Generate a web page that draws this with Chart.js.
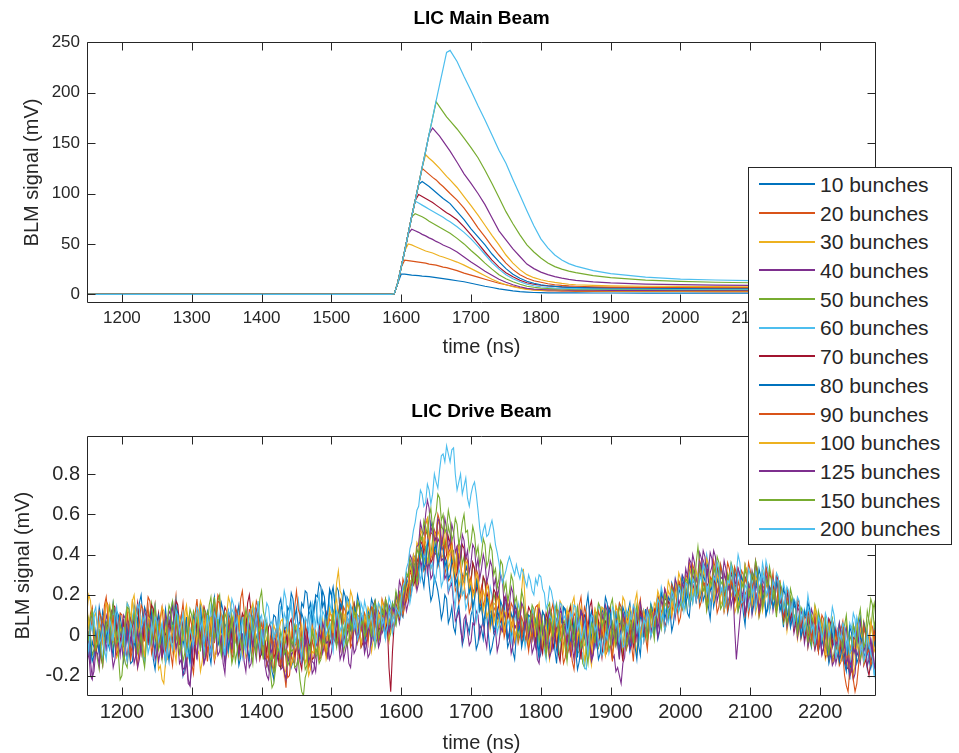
<!DOCTYPE html>
<html>
<head>
<meta charset="utf-8">
<title>LIC BLM signals</title>
<script src="https://cdn.jsdelivr.net/npm/chart.js@4.4.0/dist/chart.umd.min.js"></script>
<style>
  body { margin: 0; background: #fff; width: 959px; height: 753px; position: relative; overflow: hidden;
         font-family: "Liberation Sans", Arial, sans-serif; }
  #mainCanvas { position: absolute; left: 0; top: 0; }
  #driveCanvas { position: absolute; left: 0; top: 375px; }
  #legend { position: absolute; left: 748px; top: 167px; width: 202px; height: 376px;
            border: 1px solid #262626; background: #fff; }
  #legend .swatch { position: absolute; left: 10px; width: 56px; height: 2px; }
  #legend .name { position: absolute; left: 71px; font-size: 21px; line-height: 24px; color: #262626; white-space: nowrap; }
</style>
</head>
<body>
<canvas id="mainCanvas" width="959" height="375"></canvas>
<canvas id="driveCanvas" width="959" height="378"></canvas>
<div id="legend"></div>
<script>
// series labels and MATLAB default line colours
const seriesNames = ['10 bunches', '20 bunches', '30 bunches', '40 bunches', '50 bunches', '60 bunches', '70 bunches',
                     '80 bunches', '90 bunches', '100 bunches', '125 bunches', '150 bunches', '200 bunches'];
const seriesColors = ['#0072BD', '#D95319', '#EDB120', '#7E2F8E', '#77AC30', '#4DBEEE', '#A2142F',
                      '#0072BD', '#D95319', '#EDB120', '#7E2F8E', '#77AC30', '#4DBEEE'];

const timeTicks = [1200, 1300, 1400, 1500, 1600, 1700, 1800, 1900, 2000, 2100, 2200];
const mainTicks = [0, 50, 100, 150, 200, 250];
const driveTicks = [-0.2, 0, 0.2, 0.4, 0.6, 0.8];

// main beam, BLM signal in mV
const mainTime = [1150, 1585, 1590, 1595, 1600, 1605, 1610, 1615, 1620, 1625, 1630, 1635, 1640, 1645, 1650, 1655, 1660, 1665, 1670,
  1680, 1690, 1700, 1710, 1720, 1730, 1740, 1750, 1760, 1770, 1780, 1790, 1800, 1810, 1820, 1830, 1840, 1850,
  1875, 1900, 1950, 2000, 2050, 2100, 2150, 2200, 2280];
const main10 = [0, 0, 0.5, 11, 20, 20, 19.5, 19, 18.8, 18.5, 18, 17.8, 17.5, 17, 16.5, 16, 15.5, 15, 14.5, 13.5, 12.5, 11, 9.5, 8, 6.8, 5.5, 4.5, 3.5, 2.7, 2.2, 1.8, 1.6, 1.5, 1.5, 1.4, 1.4, 1.4, 1.3, 1.3, 1.2, 1.2, 1.2, 1.1, 1.1, 1.1, 1];
const main20 = [0, 0, 0.5, 11, 27, 34, 33.5, 33, 32.5, 32, 31.5, 31, 30, 29.5, 29, 28, 27, 26.5, 25.5, 23.5, 21, 19, 17, 15, 13, 11, 9.5, 8, 6.5, 5.5, 4.5, 4, 3.5, 3.3, 3.2, 3.1, 3, 3, 2.9, 2.8, 2.8, 2.7, 2.7, 2.6, 2.6, 2.5];
const main30 = [0, 0, 0.5, 11, 27, 43, 50, 49, 47.5, 46, 44.5, 43, 42, 41, 39.5, 38, 37, 35.8, 34.5, 32, 29, 25.5, 22, 18.5, 15, 12, 9.5, 7.5, 6, 5, 4.5, 4.2, 4, 3.9, 3.8, 3.8, 3.7, 3.6, 3.5, 3.4, 3.4, 3.3, 3.3, 3.2, 3.2, 3.1];
const main40 = [0, 0, 0.5, 11, 27, 43, 60, 64.5, 63, 61.5, 59.5, 58, 56, 54.5, 52.5, 51, 49, 47.5, 46, 42, 37, 32, 27.5, 23, 19, 15, 12, 9.5, 7.5, 6, 5.2, 4.8, 4.5, 4.4, 4.3, 4.2, 4.2, 4.1, 4, 4, 3.9, 3.9, 3.8, 3.8, 3.8, 3.7];
const main50 = [0, 0, 0.5, 11, 27, 43, 60, 77, 80, 78.5, 77, 75, 72.5, 70.5, 68.5, 66.5, 64.5, 62.5, 60.5, 55.5, 50, 43.5, 37.5, 31, 25, 19.5, 15.5, 12.5, 10, 8, 7, 6.2, 5.8, 5.5, 5.3, 5.2, 5.1, 5, 4.9, 4.8, 4.7, 4.7, 4.6, 4.6, 4.5, 4.5];
const main60 = [0, 0, 0.5, 11, 27, 43, 60, 77, 92.5, 90.5, 88.5, 86.5, 84.5, 82.5, 80.5, 78.5, 76.5, 74, 72, 67, 61.5, 55, 47.5, 39.5, 31.5, 25, 19.5, 15.5, 12.5, 10, 8.5, 7.5, 6.8, 6.3, 6, 5.8, 5.7, 5.5, 5.4, 5.3, 5.2, 5.2, 5.1, 5.1, 5, 5];
const main70 = [0, 0, 0.5, 11, 27, 43, 60, 77, 93, 99, 97, 95, 93, 91, 88.5, 86, 83.5, 81, 79, 74, 67, 59, 50.5, 42, 34, 27, 21.5, 17.5, 14, 11.5, 10, 9, 8.3, 7.8, 7.4, 7.2, 7, 6.8, 6.7, 6.6, 6.5, 6.5, 6.4, 6.4, 6.3, 6.3];
const main80 = [0, 0, 0.5, 11, 27, 43, 60, 77, 93, 109, 112, 109.5, 107, 104, 101, 98, 95, 92.5, 90, 82, 74, 65, 57, 49, 40, 32.5, 25.5, 20, 16, 13, 11, 9.5, 8.5, 7.8, 7.3, 7, 6.8, 6.5, 6.3, 6.1, 6, 5.9, 5.8, 5.8, 5.7, 5.6];
const main90 = [0, 0, 0.5, 11, 27, 43, 60, 77, 93, 109, 125, 122, 119, 116, 113.5, 110, 107, 103.5, 100, 93.5, 85.5, 76, 66, 57, 47.5, 39, 31, 24.5, 19.5, 16, 13.5, 12, 10.5, 9.5, 8.8, 8.3, 8, 7.5, 7.2, 7, 6.8, 6.7, 6.6, 6.5, 6.5, 6.4];
const main100 = [0, 0, 0.5, 11, 27, 43, 60, 77, 93, 109, 126, 138.5, 135, 132, 128.5, 125, 121, 117, 113.5, 106, 97, 88, 78.5, 68.5, 58.5, 49, 39, 31, 24.5, 19.5, 16.5, 14.5, 13, 11.8, 10.8, 10, 9.5, 8.8, 8.4, 8, 7.8, 7.6, 7.5, 7.4, 7.3, 7.2];
const main125 = [0, 0, 0.5, 11, 27, 43, 60, 77, 93, 109, 126, 142, 159, 165, 161, 157, 152, 147, 142, 131, 119.5, 110, 100, 89, 76, 63, 54, 45, 37.5, 30, 25.5, 22, 19.5, 17.5, 16, 14.8, 13.8, 12.3, 11.3, 10.2, 9.6, 9.2, 8.9, 8.7, 8.5, 8.3];
const main150 = [0, 0, 0.5, 11, 27, 43, 60, 77, 93, 109, 126, 142, 159, 175, 191, 186, 181, 176, 172, 164, 155, 145.5, 135.5, 123, 110, 96, 82, 70, 59, 49, 42, 36, 31, 27.5, 25, 23, 21.5, 18.5, 16.5, 14, 12.8, 12, 11.5, 11.2, 11, 10.8];
const main200 = [0, 0, 0.5, 11, 27, 43, 60, 77, 93, 109, 126, 142, 159, 175, 192, 208, 224, 240, 242, 231, 216, 202, 187, 173, 158, 143, 130, 114, 98.5, 83, 68, 55, 46, 39, 34, 30.5, 28, 23.5, 20.5, 17, 15, 14.2, 13.5, 13, 12.5, 12];

// drive beam, sampled every 2.5 ns from 1150 ns, values in units of 0.01 mV
const driveStart = 1150;
const driveStep = 2.5;
const drive10 = [
  -9, 2, -14, -3, -6, -9, 3, 14, 8, -3, 2, 6, -4, -7, 5, 16, 11, 1, 7, 10, -2, -13, -8, 2, -3, -8, 4, 15, 12, 6, 16, 20, 9, -2, 1, 9, -5, -1, -12, -17, -7, 4, 0, -5, 6, 13, 3, -2, 10, 17,
  5, -6, -3, 5, -10, -20, -16, -5, -8, -14, -1, 10, 7, -3, 2, 8, -4, -10, 3, 12, 9, 1, 14, 19, 6, -5, -2, 4, -6, -12, 1, 12, 8, -1, 4, 7, -5, -15, -11, -2, -4, 8, 2, -4, 9, 14, 5, -7, -1, 3,
  -10, -2, -4, -15, -12, -8, -18, -22, -9, 1, -2, -11, -7, -9, 3, 6, -5, -16, -13, -3, -6, -10, 2, 11, 8, -4, 1, 12, 10, 5, 15, 18, 7, 3, 13, 22, 19, 9, 12, 23,
  20, 10, 14, 24, 22, 12, 16, 7, 9, 19, 17, 8, 11, 14, 4, -3, 8, 10, -1, -6,
  3, 11, 9, 2, 14, 17, 6, -4, 0, 8, 5, -2, 11, 14, 7, 16, 12, 6,
  15, 20, 11, 9, 19, 28, 26, 18, 22, 30, 31, 25, 35, 38,
  29, 24, 34, 35, 25, 17, 20, 29, 26, 22, 16, 8, 12, 20,
  18, 6, 9, 14, 4, 1, 11, 15, 6, -5, -1, 8, 5, 1, 10, 13, 2, -7, -4, 5, 3, -2, 8, 10, 0, -9, -6, -1, 2, 9, 7, 2, 12, 15, 4, -6, -3, 2, -8, -12, 1, 10, 6, -4, -2, 6, 3, 10,
  9, -1, 2, 7, -5, -12, -9, 1, -2, -6, 6, 13, 11, 2, 4, -7, -1, 10, 7, 14, 13, 3, 5, -5, -3, 4, -8, -17, -13, -3, -6, 6, 1, -5, 8, 12, 3, -6, -2, 7,
  5, 13, 10, 19, 16, 7, 9, -3, 2, 8, -4, -11, 1, 11, 7, 0, 12, 16, 6, -4, 0, 5, -5, -10, 3, 12, 8, 0,
  4, 12, 11, 3, 7, -2, 2, 12, 9, 16, 15, 8, 12, 2, 6, 15, 14, 23, 21, 13, 17, 20, 11, 9, 19, 27, 26, 17, 22, 31,
  28, 17, 20, 24, 14, 8, 19, 27, 26, 35, 31, 20, 24, 13, 17, 25, 22, 30, 29, 18, 25, 12, 15, 20, 11, 5, 18, 26, 24, 16, 30, 34, 22, 19, 27, 15, 19, 10, 13, 21, 20, 27,
  24, 14, 17, 21, 12, 4, 19, 22, 14, 6, 8, 15, 13, 2, 6, 12, 10, -1, 3, 7, -2, -6, 5, 8, 0, -8, -4, 4,
  3, 4, -5, -14, -10, 1, -4, -8, 2, 6, -3, -12, -9, -4, -15, -22, -7, 5, 0, -6, 5, 9, -2, -11, -8, -4, -12, -16, -6, 4, -1];
const drive20 = [
  5, -4, 11, 14, 2, -8, -3, 6, 4, -2, 9, 17, 15, 3, 8, 12, 1, -10, -6, 3, -2, -7, 6, 12, 3, -9, -5, -1, -10, -16, -4, 7, 4, -3, 10, 19, 17, 8, 12, 16, 5, -6, -1, 4, -7, -14, -3, 9, 6, 1,
  13, 20, 9, -1, 2, 6, -4, -14, -9, 1, -14, -19, -6, 5, 3, -3, 8, 13, 1, -8, -3, 4, 5, -2, 11, 20, 18, 7, 10, 1, 4, 9, -2, -12, -8, 5, -2, -8, 7, 10, 3, -6, -4, 5, 2, -3, 9, 17, 14, 2,
  6, 0, -3, -12, -9, -4, -15, -18, -7, 3, 1, -8, -4, -3, -12, -21, -20, -10, -13, -14, -5, 4, 3, -6, -2, -1, -10, -14, -6, 5, 2, -5, -3, -12, -11, -2, -7, -1, 0, 8,
  7, -1, 2, 11, 10, 18, 16, 6, 8, 1, 3, -6, -4, 4, 1, 10, 9, 2, 5, 9,
  -1, 8, 6, 3, 12, 13, 4, 2, 9, 18, 15, 4, 8, 1, 3, 12, 10, 16,
  13, 21, 18, 10, 14, 24, 23, 19, 29, 32, 25, 35, 36, 44,
  41, 32, 34, 44, 45, 51, 50, 40, 43, 34, 37, 45, 42, 30,
  35, 27, 28, 36, 33, 22, 24, 16, 19, 28, 26, 18, 20, 11, 14, 23, 21, 28, 25, 14, 16, 5, 10, 18, 15, 4, 7, 14, 12, 20, 18, 7, 9, -1, 3, 11, 8, 16, 14, 4, 5, -4, 0, 9, 6, -3, 2, -6,
  -3, 6, 5, -2, 10, 14, 3, -6, -2, 8, 7, 1, 12, 16, 5, -5, 0, 4, -6, -14, -11, 0, -4, -9, 3, 11, 9, 2, 15, 19, 8, -1, 2, 6, -3, -9, 4, 12, 11, 2,
  6, 9, -1, -10, -8, 3, -3, -1, 5, 14, 12, 3, 7, 11, 1, -7, -4, 6, 3, 12, 10, 3, 14, 18, 7, -3, 2, 11,
  8, -1, 3, 12, 10, 6, 16, 20, 11, 2, 6, 14, 13, 9, 19, 24, 14, 6, 9, 18, 17, 27, 24, 15, 19, 29, 28, 20, 23, 14,
  17, 26, 24, 33, 32, 22, 27, 18, 20, 11, 14, 23, 21, 30, 28, 36, 33, 23, 25, 16, 19, 27, 23, 32, 30, 20, 22, 10, 16, 24, 25, 34, 31, 21, 26, 15, 18, 27, 22, 31, 28, 18,
  20, 27, 25, 16, 18, 9, 11, 19, 16, 5, 9, 17, 14, 3, 7, -2, 2, 10, 8, -2, 4, 6, -3, -7, 1, 8, 6, -4,
  -2, 4, -9, -12, -4, 6, 3, -7, -5, -15, -13, -9, -20, -25, -28, -17, -16, -3, -6, 5, 1, -8, -4, -13, -10, 2, -3, 6, 4, -5, -1];
const drive30 = [
  12, 20, 17, 6, 9, 11, 3, -7, -2, 8, 4, 1, 10, 15, 6, -3, -4, -11, -9, 3, 1, -2, 7, 16, 14, 8, 18, 9, 11, 1, 2, -9, -5, 7, 0, 10, 8, -3, 3, 0, -6, -17, -15, -22, -24, -13, -12, 1, -3, -8,
  5, 9, 1, -9, -5, 3, 3, 12, 9, -1, 4, 6, -2, -10, -8, -18, -13, -3, -5, 6, 2, -4, 9, 17, 13, 3, 6, -4, 0, 5, -6, -10, -1, 9, 7, 4, 12, 14, 5, -6, -3, -11, -9, 1, -2, -7, 4, 13, 10, 2,
  3, -6, -4, -1, -11, -15, -6, 5, 2, -8, -3, -3, -9, -20, -17, -8, -10, 2, -2, 4, 5, -5, -1, -10, -7, -4, -13, -16, -5, 4, 1, -10, -6, 5, 4, -6, -2, -12, -8, -1,
  2, 10, 12, 26, 32, 22, 20, 9, 11, 4, 5, 13, 14, 2, 7, -4, -1, 8, 4, 11,
  9, 1, 3, -8, -2, 7, 6, 16, 13, 2, 8, 10, 1, -3, 7, 15, 14, 8,
  11, 20, 17, 13, 22, 26, 18, 27, 27, 36, 33, 24, 30, 41,
  39, 48, 46, 36, 41, 33, 35, 43, 44, 52, 49, 38, 40, 47,
  44, 33, 36, 40, 30, 27, 37, 24, 28, 20, 22, 31, 29, 21, 24, 13, 17, 26, 23, 12, 14, 22, 19, 9, 12, 3, 8, 16, 15, 5, 9, 1, 4, 12, 10, 19, 16, 6, 7, -2, 2, 11, 8, 15, 13, 3, 5, -6,
  0, 9, 6, -1, 11, 12, 4, -7, -2, 3, -7, -12, -1, 8, 5, 1, 10, 17, 15, 6, 8, 13, 2, -5, -3, 6, 3, -3, 9, 14, 4, -5, -4, -2, -10, -15, -5, 6, 1, -4,
  7, 14, 13, 2, 6, 11, 0, -9, -5, 4, 2, -3, 8, 19, 17, 6, 9, -2, 3, 7, -2, -10, 4, 12, 10, 1, 6, 13,
  10, 2, 5, 13, 12, 20, 17, 8, 9, 16, 14, 22, 20, 10, 13, 21, 18, 27, 24, 13, 16, 24, 21, 29, 27, 18, 20, 28, 25, 34,
  30, 22, 23, 13, 18, 26, 25, 34, 31, 22, 24, 15, 17, 26, 21, 31, 28, 19, 22, 11, 14, 21, 19, 30, 26, 35, 32, 21, 25, 14, 20, 11, 15, 24, 23, 32, 29, 19, 21, 12, 16, 25,
  22, 12, 15, 23, 19, 10, 12, 2, 8, 16, 14, 6, 9, -2, 3, 12, 10, 1, 5, -6, -1, 8, 4, 12, 8, -4, 2, 5,
  -3, -12, -9, 2, -2, 8, 4, -6, -5, -14, -12, -2, -6, 6, 1, -9, -7, -20, -15, -4, -8, 3, -2, 7, 3, -8, -4, -14, -10, 1, -5];
const drive40 = [
  -14, -8, -20, -22, -11, 2, -3, -9, 4, 8, -1, 10, 7, 1, 12, 14, 5, -6, -2, 6, -7, -12, 0, 8, 6, -3, 2, 9, -6, -16, -12, -2, -5, -13, 2, 10, 9, -3, 4, 5, -3, -13, -8, 3, -2, -7, 5, 12, 10, 1,
  3, 9, -4, -14, -12, -20, -19, -13, -24, -25, -15, -4, -6, -11, 1, 4, -5, -14, -10, 0, -3, -9, 4, 13, 9, -1, 2, 8, -4, -14, -9, -1, -2, -8, 6, 14, 11, 2, 3, -7, -3, 4, -8, -16, -14, -3, -6, -12, 0, 2,
  -7, -2, -15, -20, -22, -14, -12, -3, -4, -11, -9, -17, -16, -6, -10, 0, -2, -10, -8, -16, -18, -9, -11, 1, -3, -5, 2, -4, -6, -13, -14, -18, -8, 0, -1, -9, -5, -3, -12, -2,
  -4, 6, 3, -5, -2, -12, -9, 2, -3, 0, 4, 8, -1, -9, -7, 1, 2, 10, 6, -5,
  -3, -11, -9, 1, -2, 7, 5, 12, 10, 1, 3, 12, 8, 15, 13, 4, 6, 15,
  10, 6, 15, 22, 20, 12, 16, 24, 25, 34, 30, 22, 26, 37,
  34, 43, 42, 31, 37, 28, 30, 41, 40, 48, 46, 37, 38, 28,
  30, 21, 24, 26, 16, 7, 9, 12, 3, -3, 8, 10, 2, -5, -3, 6, 5, 12, 10, -1, 4, 7, -1, -6, 6, 13, 11, 1, 3, -8, -4, 4, 2, 11, 8, -2, 1, -9, -5, 5, 3, 11, 9, -3, 2, 10, 6, -4,
  1, -9, -6, -1, -12, -14, -4, 5, 3, -2, 8, 13, 2, -7, -4, 3, 5, 12, 11, 1, 6, 9, -1, -10, -7, 2, -2, -6, 4, 12, 10, 1, 5, -4, -3, -12, -9, 1, -4, -6,
  2, 11, 8, -2, 3, 6, -3, -12, -10, -18, -16, -20, -24, -14, -11, 2, -2, -7, 5, 14, 9, -2, 3, 11, 8, 1, 12, 2,
  6, 15, 13, 4, 8, -1, 3, 12, 11, 19, 17, 8, 12, 22, 19, 9, 15, 25, 22, 30, 28, 19, 23, 33, 31, 40, 36, 27, 30, 41,
  38, 30, 33, 36, 26, 31, 34, 42, 39, 28, 29, 20, 22, 31, 27, 16, 19, 26, 24, 4, -12, -2, 8, 17, 20, 29, 27, 17, 21, 10, 15, 25, 23, 13, 18, 28, 25, 34, 30, 20, 22, 12,
  17, 26, 24, 14, 18, 8, 12, 21, 19, 7, 10, 1, 5, 14, 12, 2, 7, -4, 1, 10, 6, 13, 10, -1, 3, 7, -2, -10,
  -7, 3, -1, 8, 5, -6, -3, -14, -10, 1, -5, -9, 1, 4, -6, -15, -13, -22, -19, -8, -11, -14, -4, 6, 2, -9, -5, -2, -12, -16, -8];
const drive50 = [
  6, 9, 0, -10, -7, -3, -12, -17, -4, 7, 5, -4, 10, 14, 3, -7, -3, 4, -10, -22, -20, -9, -14, -16, -5, 6, 2, -5, 8, 13, 4, -6, -2, 8, 5, -4, 11, 16, 6, -3, -1, 5, -6, -12, 1, 9, 7, -2, 13, 17,
  8, -3, 2, 7, -4, -13, -9, 5, -3, -9, 4, 12, 9, -2, 3, 8, -3, -11, 2, 11, 7, -1, 12, 19, 5, 17, 20, 6, 10, -1, 2, 6, -4, -14, -10, 1, -5, -11, 1, 9, 6, -5, -2, 3, -8, -14, -1, 8, 5, 18,
  22, 12, 8, 4, -6, -18, -26, -24, -17, -6, -9, -16, -14, -2, -4, 6, 2, -8, -7, -16, -15, -12, -22, -28, -30, -21, -18, -5, -8, 2, -2, -11, -9, -1, -4, 5, 3, -9, -6, 6,
  -1, 9, 5, -3, 10, 12, 3, -8, -4, 6, 2, -2, 8, 16, 13, 3, 6, -5, 0, 10,
  5, -1, 11, 13, 4, -6, -2, 9, 6, 3, 12, 16, 7, -2, 1, 10, 8, 5,
  12, 21, 18, 14, 24, 28, 19, 23, 28, 37, 34, 26, 30, 42,
  38, 35, 44, 45, 36, 40, 48, 52, 41, 37, 46, 55, 52, 43,
  45, 54, 50, 41, 42, 33, 36, 46, 44, 35, 39, 30, 31, 22, 26, 36, 33, 24, 28, 16, 21, 29, 26, 17, 18, 8, 12, 21, 17, 25, 23, 11, 14, 4, 8, 16, 13, 2, 6, 12, 10, -2, 4, 7, -1, 8, 5, -2,
  9, 12, 3, -5, -3, 6, 4, 11, 10, 3, 14, 16, 7, -2, 1, 8, -5, -11, -1, 7, 6, 1, 12, 15, 5, -6, -2, -9, -8, -4, -14, -16, -7, 5, 0, -4, 6, 12, 2, -6,
  -3, 5, 4, 13, 9, 2, 15, 18, 8, -2, 3, 9, -2, -10, 5, 12, 11, 3, 6, -4, 0, 9, 7, 14, 12, 3, 4, -3,
  2, 10, 8, 0, 13, 16, 7, 3, 12, 20, 18, 9, 11, 19, 16, 26, 22, 12, 15, 24, 20, 14, 26, 31, 19, 16, 24, 36, 44, 35,
  31, 26, 23, 12, 17, 28, 24, 19, 30, 34, 22, 13, 15, 24, 20, 30, 27, 36, 33, 24, 25, 14, 18, 27, 23, 10, 14, 22, 19, 29, 26, 16, 21, 9, 13, 22, 18, 28, 25, 14, 20, 24,
  16, 9, 22, 24, 15, 6, 9, 17, 14, 23, 19, 8, 11, 2, 6, 13, 12, 2, 5, 10, 0, -5, 6, 15, 11, 0, 3, 7,
  -1, -7, 5, 6, -3, -12, -9, 1, -4, 5, 2, -9, -6, -14, -11, 0, -3, -8, 4, 7, -2, -12, -8, 3, 1, 12, 7, 2, 12, 16, 8];
const drive60 = [
  -2, -8, 5, 12, 10, -2, 4, 9, -3, -12, -8, 2, -1, -6, 6, 13, 2, -3, -5, 6, 1, -5, 8, 16, 14, 5, 9, 13, 3, -6, -4, 3, -9, -14, -3, 8, 4, -3, 10, 15, 5, -4, -1, 5, -6, -13, 0, 9, 7, 2,
  12, 18, 6, -3, 1, 6, -5, -9, -11, -2, -6, 6, 2, -4, 7, 12, 1, -8, -4, 4, 3, 14, 9, 0, 4, 10, -3, -10, -8, 2, -2, -8, 5, 13, 11, 2, 6, 12, 0, -11, -6, 4, 1, -5, 7, 15, 13, 4, 17, 8,
  10, 1, 4, 8, -3, -12, -9, 2, -2, -7, 5, 14, 13, 22, 18, 6, 11, 15, 6, 0, 14, 18, 9, -1, 2, 7, -4, -10, 3, 12, 10, 4, 16, 20, 8, -2, 1, 11, 7, 16,
  12, 22, 19, 8, 11, 14, 5, -3, 9, 18, 15, 4, 8, 13, 2, 10, 7, 16, 13, 3,
  6, 12, 1, -4, 8, 17, 14, 5, 9, 16, 3, -2, 10, 19, 16, 7, 11, 20,
  14, 7, 10, 18, 19, 28, 25, 16, 21, 30, 29, 38, 35, 27,
  31, 40, 38, 47, 44, 33, 36, 26, 29, 39, 34, 24, 27, 37,
  33, 22, 25, 29, 19, 14, 26, 33, 30, 20, 22, 13, 16, 26, 23, 12, 18, 7, 12, 20, 17, 6, 9, 17, 14, 24, 20, 9, 11, 1, 5, 14, 10, 18, 15, 5, 8, -3, 2, 11, 7, 16, 12, 1, 4, -6, -1, 8,
  4, 13, 10, 1, 5, -5, -2, 6, -7, -12, 1, 10, 8, 3, 13, 16, 6, -4, 0, 5, -4, -10, 3, 11, 9, -1, 4, 10, -3, -8, -9, -16, -17, -7, -6, 6, 2, -4, 7, 15,
  13, 3, 8, 12, 1, -9, -5, 6, 2, -3, 9, 16, 14, 4, 7, 12, 2, -8, -3, 6, 5, 13, 11, 2, 6, -3, 1, 11,
  7, 16, 13, 4, 9, 19, 16, 24, 20, 11, 14, 6, 10, 21, 17, 28, 23, 12, 18, 24, 12, 17, 20, 30, 26, 16, 21, 31, 28, 19,
  24, 34, 30, 40, 35, 24, 27, 17, 21, 30, 26, 35, 32, 22, 24, 13, 18, 28, 25, 33, 31, 40, 36, 25, 28, 17, 22, 13, 17, 27, 24, 33, 29, 18, 21, 31, 26, 37, 33, 22, 24, 14,
  19, 28, 25, 14, 17, 26, 22, 11, 14, 4, 9, 18, 16, 6, 11, 1, 5, 13, 10, 20, 14, 3, 6, -4, 1, 10, 7, -3,
  2, 9, -4, -9, 6, 14, 10, 1, 3, -7, -3, 4, -9, -14, -4, 6, 3, 11, 8, -2, 1, -9, -6, -2, -11, -17, -5, -9, -12, -20, -16];
const drive70 = [
  3, -4, 8, 12, 1, -9, -5, 2, -11, -15, -4, 6, 4, -3, 9, 15, 14, 3, 7, -3, 0, 8, -6, -12, -2, 8, 5, -2, 10, 16, 4, -7, -3, 6, 2, -5, 8, 15, 13, 2, 6, 11, -1, -11, -7, 2, -2, 7, 3, -4,
  9, 17, 15, 5, 10, 1, 3, -8, -4, 2, -9, -14, -3, 7, 3, -2, 7, 14, 11, -1, 4, 8, -2, -13, -8, 4, -1, -7, 6, 14, 12, 2, 7, -2, 1, 6, -4, -10, 2, 11, 9, 2, 16, 20, 11, 0, 4, 9, -2, -12,
  -8, -1, -3, -9, 4, 6, -2, -11, -9, -4, -15, -16, -7, 3, 0, -5, 6, 8, -1, -10, -6, -3, -13, -17, -5, 4, 2, -6, -4, -12, -11, -3, -6, 5, 1, -4, 7, 11, 3, -5,
  -2, 7, 5, -1, 11, 14, 6, -3, 0, 9, 7, 3, 13, 16, 8, -2, 2, -6, -4, 6,
  3, 10, 9, 1, 15, 17, 10, 2, 4, 13, 12, 3, 7, -16, -28, -8, 6, 14,
  13, 8, 19, 22, 16, 20, 24, 33, 30, 25, 27, 38, 36, 47,
  45, 41, 52, 50, 44, 36, 38, 49, 47, 57, 55, 44, 48, 37,
  40, 49, 46, 35, 37, 28, 31, 40, 38, 45, 43, 32, 34, 24, 27, 36, 33, 22, 25, 15, 20, 29, 27, 18, 22, 12, 15, 23, 21, 10, 16, 7, 10, 19, 17, 9, 12, 3, 6, 14, 13, 4, 9, 1, 3, 10, 8, 14,
  12, 4, 6, -4, 0, 6, -5, -9, 2, 11, 8, 1, 4, -6, -3, 4, -9, -13, -2, 6, 5, -1, 11, 14, 7, -2, 1, 8, -4, -12, 3, 10, 9, 2, 14, 17, 8, -1, 2, 7,
  -4, -11, -1, 7, 6, 14, 12, 3, 5, -5, -2, 6, -6, -13, 0, 9, 7, 1, 3, -6, -3, 8, 4, 12, 10, 1, 6, 13,
  10, 2, 4, 13, 11, 19, 17, 8, 12, 4, 7, 17, 15, 24, 21, 12, 16, 26, 24, 14, 19, 28, 27, 36, 33, 22, 26, 17, 21, 31,
  28, 37, 34, 24, 26, 15, 20, 29, 25, 35, 31, 20, 23, 12, 17, 26, 22, 32, 29, 18, 24, 33, 30, 19, 20, 10, 14, 23, 21, 30, 27, 37, 32, 22, 25, 14, 19, 27, 23, 13, 16, 25,
  22, 30, 27, 16, 18, 8, 13, 21, 19, 8, 12, 3, 7, 16, 14, 4, 9, -1, 3, 12, 9, -1, 4, 9, -2, -8, 3, 5,
  -5, -10, 1, 8, 6, -4, -1, 3, -7, -13, -3, 4, -10, -17, -16, -5, -8, -1, -2, 7, 4, -6, -3, -15, -12, -16, -20, -13, -9, 2, -1];
const drive80 = [
  1, 6, -5, -13, -10, 1, -3, -9, 4, 12, 8, -2, 2, 6, -4, -11, 3, 12, 10, 1, 6, -5, -1, 5, -7, -14, -13, -3, -6, 7, 1, -3, 6, 14, 11, 2, 5, 11, -2, -8, 2, 10, 7, -3, 1, 8, -6, -13, -3, 6,
  4, 14, 11, 2, 7, -5, 0, 9, -6, -12, -2, 8, 5, -3, 9, 16, 3, -4, -3, 5, -9, -14, -4, 6, 2, -5, 8, 16, 12, 4, 6, -7, -1, 9, 4, -2, 10, 15, 5, -6, -2, 4, -7, -12, -1, 9, 6, -3, 3, 8,
  -4, -10, 2, 5, -6, -8, 3, 10, 9, 1, 15, 18, 10, 3, 4, 14, 12, 21, 18, 9, 13, 4, 7, 16, 14, 22, 21, 12, 16, 8, 11, 20, 19, 26, 24, 14, 17, 7, 12, 22,
  20, 24, 15, 5, 8, 16, 13, 22, 19, 10, 12, 3, 6, 14, 11, 20, 16, 6, 9, -1,
  3, 12, 10, 18, 15, 4, 8, -2, 2, 11, 9, 17, 14, 3, 7, 15, 12, 20,
  16, 12, 22, 25, 18, 26, 27, 36, 32, 40, 38, 30, 34, 45,
  42, 33, 36, 45, 48, 56, 53, 42, 45, 35, 39, 47, 44, 34,
  37, 28, 30, 38, 35, 25, 28, 18, 22, 30, 27, 35, 32, 21, 24, 14, 18, 27, 23, 12, 15, 6, 10, 19, 16, 5, 11, 2, 5, 13, 9, 17, 14, 4, 7, -2, 2, 11, 8, 16, 12, 2, 5, -6, -1, 8, 4, -4,
  8, -2, 2, 7, -3, -9, 4, 12, 10, 1, 5, -6, -1, 5, -7, -14, -2, 8, 6, 14, 12, 2, 7, -5, 1, 7, -4, -11, 3, 12, 9, 1, 14, 20, 9, -2, 3, 8, -3, -12,
  -9, 1, -3, -8, 4, 13, 10, -1, 5, 12, -1, -8, 6, 14, 11, 2, 4, -7, -2, 6, -6, -12, 1, 9, 8, -1, 13, 4,
  7, 15, 12, 2, 6, 14, 13, 21, 18, 8, 12, 19, 17, 26, 23, 13, 15, 24, 20, 29, 25, 16, 19, 28, 24, 33, 30, 20, 26, 17,
  21, 30, 27, 36, 33, 22, 24, 14, 19, 28, 25, 34, 30, 20, 22, 11, 16, 25, 23, 32, 28, 17, 20, 29, 26, 35, 31, 21, 23, 12, 18, 27, 24, 33, 29, 18, 20, 10, 15, 24, 22, 14,
  17, 26, 23, 12, 15, 23, 20, 9, 13, 4, 8, 17, 14, 3, 9, -1, 3, 12, 9, 16, 13, 2, 5, -4, 0, 9, 6, -5,
  -1, 5, -7, -12, -2, 7, 4, -6, -3, -13, -9, -3, -14, -18, -6, 4, 1, -8, -5, -14, -11, 0, -4, 6, 2, -9, -6, -16, -13, -3, -7];
const drive90 = [
  7, -3, 2, 8, -4, -10, 3, 12, 9, 1, 15, 19, 9, -3, 2, 10, -3, -10, 4, 11, 10, -2, 5, 12, -2, -12, -7, 3, -1, -9, 6, 15, 13, 2, 8, 14, 1, -9, -4, 6, 2, -6, 9, 14, 4, -7, -3, 5, -9, -15,
  -4, 7, 3, -5, 9, 16, 5, -6, -2, 9, 5, -4, 11, 18, 6, -5, 0, 7, -6, -13, -1, 8, 5, -4, 10, 17, 16, 5, 9, -2, 3, 11, -2, -9, 4, 13, 11, 2, 18, 22, 12, 1, 5, 13, -1, -8, 3, 12, 8, -3,
  1, 6, -6, -15, -12, 0, -5, -10, 2, 5, -4, -14, -11, -18, -26, -9, -14, -3, 4, 14, 22, 13, 10, -2, 2, 7, -5, -16, -13, -2, -7, 2, -1, -12, -8, 1, -3, -9, 4, 11,
  10, -1, 4, 8, -2, -7, 5, 14, 12, 3, 7, -4, 1, 11, 8, 16, 14, 2, 9, 11,
  2, -4, 8, 14, 13, 4, 6, -3, 1, 10, 9, 18, 15, 5, 10, 2, 5, 13,
  12, 20, 19, 28, 25, 17, 21, 31, 30, 39, 36, 29, 41, 50,
  47, 43, 55, 58, 49, 38, 42, 52, 50, 60, 57, 48, 46, 42,
  51, 40, 43, 47, 37, 32, 44, 45, 36, 28, 30, 39, 37, 26, 29, 20, 23, 33, 30, 19, 24, 14, 18, 27, 24, 13, 17, 8, 12, 21, 18, 9, 13, 2, 7, 16, 13, 3, 8, -3, 2, 11, 9, -1, 4, 8, -2, -8,
  3, -2, 9, 14, 15, 5, 8, 1, 2, -8, -4, 6, 1, -3, 7, 13, 12, 3, 5, -6, -1, -10, -7, -4, -13, -17, -6, 4, 0, -5, 6, 14, 11, 1, 4, -6, -2, 8, 3, 12,
  9, -1, 5, -6, -2, 4, -6, -13, 1, 8, 8, 16, 14, 3, 7, -4, 0, 5, -5, -13, 2, 11, 9, -2, 5, 10, -1, -7,
  5, 13, 11, 4, 16, 19, 10, 6, 14, 23, 20, 12, 15, 25, 22, 13, 17, 27, 25, 16, 21, 30, 28, 18, 23, 35, 32, 22, 27, 37,
  34, 25, 26, 14, 20, 29, 27, 37, 33, 21, 24, 35, 30, 19, 22, 12, 17, 27, 24, 34, 31, 20, 25, 15, 19, 28, 26, 36, 32, 23, 27, 16, 21, 10, 16, 25, 23, 33, 29, 17, 24, 31,
  20, 11, 26, 27, 19, 9, 14, 23, 21, 12, 15, 6, 10, 18, 16, 5, 10, 1, 4, 12, 10, -1, 5, 8, -2, -8, 3, 10,
  8, -1, 2, 4, -5, -13, -11, 1, -4, -8, 3, 7, -3, -12, -10, -20, -17, -22, -28, -24, -15, -3, -6, 5, 0, -9, -7, -15, -13, 1, -5];
const drive100 = [
  15, 4, 9, 12, 3, -6, -3, 6, 2, -4, 8, 16, 14, 3, 7, -2, 1, -8, -6, 5, -1, -8, 5, 13, 11, 3, 17, 20, 10, -1, 3, 8, -4, -11, 2, 9, 8, -2, 3, 12, -3, -7, 6, 14, 12, 2, 5, -6, -2, 5,
  -7, -13, -1, 9, 6, -3, 11, 15, 4, -5, -2, 7, 3, -5, 9, 17, 14, 3, 8, -3, 2, 9, -4, -12, -9, 1, -2, 9, 4, -6, 10, 19, 16, 5, 9, -2, 3, 10, -3, -9, 2, 11, 8, -1, 13, 16, 6, -4, 0, 5,
  -4, -11, 3, 5, -3, -12, -10, 0, -5, -9, 2, 7, 8, -3, 1, 6, -6, -15, -12, -3, -5, -10, 1, 5, -4, -14, -11, -20, -17, -8, -9, 1, -3, -9, 3, 8, -2, -7, 4, 13,
  9, 1, 15, 18, 8, -2, 2, 10, 7, 16, 13, 22, 19, 9, 11, 2, 5, -5, 0, 9,
  6, 14, 12, 2, 7, -3, 1, 11, 8, 17, 14, 5, 9, -1, 3, 13, 10, 18,
  15, 10, 21, 24, 17, 23, 26, 35, 31, 40, 37, 46, 44, 53,
  50, 45, 56, 58, 48, 39, 41, 51, 49, 58, 54, 44, 45, 53,
  49, 38, 41, 44, 35, 30, 42, 45, 34, 25, 29, 37, 35, 24, 27, 19, 22, 31, 28, 17, 21, 12, 16, 25, 22, 12, 15, 6, 10, 19, 17, 8, 11, 2, 6, 14, 12, 3, 7, -2, 2, 12, 9, 22, 33, 16, 4, -4,
  0, 10, 7, -1, 13, 16, 6, -3, 1, 5, -5, -11, 2, 10, 8, -1, 3, 11, -2, -8, 5, 12, 11, 2, 16, 19, 9, -1, 3, 8, -3, -12, -8, 4, -2, -6, 4, 13, 10, 1,
  6, 10, 0, -10, -5, 6, 1, -4, 7, 15, 12, 2, 5, -6, -1, 9, 5, 14, 11, 3, 17, 21, 9, -1, 3, 12, 8, 4,
  13, 4, 7, 16, 14, 22, 19, 9, 13, 21, 18, 27, 24, 14, 17, 26, 22, 31, 28, 17, 20, 29, 26, 35, 31, 21, 24, 32, 29, 19,
  23, 32, 29, 38, 35, 24, 27, 17, 21, 30, 28, 19, 22, 12, 16, 26, 23, 34, 30, 20, 24, 13, 18, 27, 25, 35, 31, 21, 26, 15, 20, 29, 27, 17, 22, 12, 17, 26, 24, 14, 19, 28,
  24, 14, 18, 26, 22, 12, 15, 6, 10, 19, 16, 7, 11, 1, 5, 13, 11, 2, 6, -4, 0, 9, 6, 14, 10, -1, 3, 6,
  -3, -10, 3, 6, -5, -14, -12, -2, -6, 4, 0, -9, -7, -12, -15, -5, -9, -14, -3, 6, 2, -7, -5, -14, -11, -2, -4, 7, 1, -8, -6];
const drive125 = [
  -6, 1, -13, -21, -18, -8, -9, -15, -2, 6, 4, -8, -1, 3, -7, -16, -12, -1, -4, -10, 3, 10, 8, -3, 2, 7, -5, -14, -10, 2, -3, -9, 4, 12, 9, -1, 3, 8, -3, -12, -9, 1, -4, -11, 2, 10, 7, -2, 11, 14,
  4, -7, -3, 5, -9, -17, -16, -10, -22, -25, -13, -2, -5, -12, 1, 5, -5, -14, -11, -1, -4, -9, 3, 9, -2, -10, -8, 0, -14, -19, -6, 4, 0, -7, 5, 10, -1, -9, -7, 1, -13, -18, -6, 5, 1, -6, 6, 12, 2, -9,
  -4, 3, -11, -13, -17, -6, -9, -1, -2, -12, -8, -4, -15, -18, -22, -11, -14, -2, -6, 4, 0, -9, -6, -14, -12, 0, -4, -13, -10, -19, -17, -7, -8, 2, -2, 6, 3, -4, -3, -12,
  -9, -1, -3, 7, 4, -7, -2, -12, -8, -3, -14, -16, -6, 6, 1, -3, 6, 9, 0, -9,
  -5, 4, 2, -3, 8, 12, 3, -6, -3, 7, 4, 12, 10, 1, 5, 14, 11, 20,
  17, 27, 24, 14, 20, 28, 30, 40, 38, 29, 34, 44, 45, 56,
  52, 50, 60, 67, 63, 51, 55, 47, 48, 58, 56, 44, 50, 58,
  53, 43, 46, 55, 51, 41, 44, 34, 39, 50, 47, 38, 42, 31, 36, 45, 43, 33, 38, 28, 33, 40, 36, 26, 30, 37, 34, 24, 28, 19, 23, 30, 27, 15, 20, 11, 15, 24, 21, 10, 13, 4, 8, 16, 14, 3, 9, -1,
  4, 9, -2, -6, 5, 13, 10, 1, 4, -5, -3, -11, -8, 3, -1, 8, 6, 14, 11, 2, 5, -4, 0, 6, -6, -12, -2, 8, 5, 12, 9, -1, 3, -6, -4, -13, -10, -1, -5, 4,
  1, 10, 7, 15, 12, 1, 6, -4, 0, 5, -4, -12, 3, 11, 8, -1, 2, -7, -5, 6, 1, 10, 7, 16, 11, 2, 5, 13,
  10, 0, 5, 11, 12, 3, 8, 17, 15, 23, 20, 10, 14, 23, 19, 28, 25, 15, 18, 26, 23, 33, 29, 38, 36, 27, 31, 22, 26, 36,
  33, 42, 39, 29, 32, 41, 38, 30, 27, 17, 21, 29, 28, 37, 33, 23, 25, 14, 19, 28, 24, 33, 30, 19, 22, 11, 16, 25, 23, 32, 28, 17, 21, 12, 15, 24, 20, 30, 26, 15, 19, 28,
  24, 14, 17, 25, 22, 11, 14, 4, 9, 18, 15, 5, 10, -1, 4, 12, 10, 1, 5, -6, -1, 8, 5, -7, -4, 5, 1, -9,
  -6, 3, 0, -10, -7, -15, -13, -3, -5, 6, 1, -8, -4, -14, -11, -20, -17, -6, -9, 1, -3, 7, 2, -8, -5, -15, -12, -2, -7, -16, -13];
const drive150 = [
  4, -3, 9, 12, 2, -7, -4, 3, -9, -15, -3, 6, 3, -3, 9, 16, 5, -4, -2, 5, 2, -6, 8, 14, 13, 2, 6, 11, 0, -9, -6, 1, -11, -16, -4, 5, 3, -3, 8, 14, 2, -7, -4, 4, 1, -6, 7, 15, 12, 3,
  6, 12, 0, -9, -5, 3, -2, -9, 4, 13, 10, 1, 5, 10, -1, -8, 5, 13, 11, 2, 15, 19, 8, -2, 1, 8, -4, -10, 2, 11, 8, -1, 3, 9, -3, -13, -8, 1, -2, -7, 5, 13, 9, -1, 3, 8, -3, -10, 1, 6,
  -5, -12, 1, 5, -4, -13, -10, -18, -16, -6, -8, 2, -2, -9, -7, -15, -13, -2, -5, 5, 2, -6, -3, -1, -9, -17, -15, -5, -8, 2, -1, -9, -6, -14, -12, -2, -4, 7, 2, -2,
  6, 11, -1, -6, 4, 12, 10, 0, 5, -5, -2, 7, 3, 12, 9, 17, 14, 5, 8, -1,
  2, 10, 7, -1, 13, 17, 8, -1, 3, 13, 10, 18, 15, 6, 9, 16, 14, 22,
  18, 10, 14, 24, 22, 31, 29, 38, 35, 26, 31, 43, 40, 49,
  47, 57, 54, 50, 59, 63, 52, 58, 61, 70, 68, 57, 60, 51,
  53, 62, 57, 47, 50, 58, 55, 45, 49, 56, 60, 51, 52, 42, 46, 54, 50, 40, 44, 35, 40, 48, 45, 34, 37, 45, 42, 30, 33, 24, 28, 37, 35, 22, 26, 17, 21, 30, 27, 16, 19, 9, 13, 22, 18, 8, 11, 2,
  7, 15, 13, 4, 8, -3, 2, 7, -4, -10, 1, 8, 6, -1, 11, 15, 5, -3, -1, 6, -6, -13, -2, 7, 4, -3, 9, 14, 3, -6, -3, 4, -8, -14, -3, 6, 3, -4, 9, 16,
  14, 4, 7, 12, 2, -7, -4, 6, 1, -5, 7, 14, 12, 2, 5, -6, -1, 9, 4, -4, 10, 15, 6, -4, 0, 8, 5, -1,
  9, 14, 4, -2, 11, 17, 16, 6, 11, 20, 18, 9, 13, 23, 21, 12, 16, 25, 24, 14, 19, 28, 27, 16, 22, 33, 30, 20, 25, 35,
  31, 22, 24, 14, 18, 27, 25, 34, 30, 39, 36, 25, 27, 16, 21, 30, 26, 35, 32, 21, 23, 12, 17, 26, 24, 33, 29, 19, 22, 31, 27, 37, 33, 22, 25, 14, 19, 28, 24, 34, 29, 18,
  22, 12, 17, 26, 23, 13, 16, 6, 10, 19, 16, 7, 11, 1, 6, 14, 12, 2, 7, -3, 1, 10, 7, -4, 2, 12, 8, -2,
  3, 9, -3, -10, 4, 8, -2, -11, -8, 1, -2, -7, 5, 10, -1, -9, -6, 5, 2, -4, 8, 13, 3, -6, -3, 4, 10, 18, 15, 4, 9];
const drive200 = [
  -1, -8, 6, 2, 11, 14, 5, -4, -2, 4, -7, -12, -2, 8, 4, -3, 9, 14, 3, -6, -3, 4, -8, -13, -4, 6, 3, -4, 8, 15, 13, 3, 6, 10, 0, -9, -5, 6, 1, 9, 7, -3, 2, 6, -4, -14, -10, 2, -3, -7,
  4, 12, 10, 1, 6, 11, -1, -10, -6, 3, 0, -5, 6, 14, 12, 3, 7, -4, 1, 10, -5, -9, 2, 11, 8, -2, 3, 9, -3, -10, 4, 12, 10, 18, 15, 4, 8, -3, 2, 9, -4, -8, 3, 11, 9, -1, 4, 10, -2, -7,
  3, -5, 9, 16, 14, 5, 7, -2, 1, 6, -4, -10, 2, 11, 8, 3, 13, 17, 6, -4, 0, 5, -6, -12, 1, 9, 7, 1, 12, 16, 5, -5, -1, 8, 4, 12, 10, 0, 3, 6,
  -3, -8, 4, 12, 10, 2, 5, -5, -1, 9, 6, 15, 12, 3, 7, -2, 1, 11, 8, 17,
  13, 4, 7, 11, 2, -4, 9, 16, 14, 5, 8, 0, 3, 12, 10, 1, 6, 14,
  12, 10, 18, 24, 26, 33, 36, 43, 46, 52, 56, 62, 64, 72,
  70, 64, 66, 75, 72, 65, 70, 80, 76, 73, 82, 89, 90, 86,
  94, 90, 86, 92, 93, 80, 72, 76, 80, 70, 74, 78, 68, 64, 70, 74, 76, 70, 62, 53, 47, 52, 55, 49, 50, 54, 57, 52, 45, 41, 36, 30, 26, 29, 32, 36, 39, 36, 33, 30, 35, 31, 28, 33, 31, 27, 24, 30,
  27, 22, 20, 28, 25, 30, 29, 23, 21, 13, 16, 24, 22, 17, 13, 5, 8, 16, 15, 8, 10, 1, 4, 11, 9, 15, 14, 3, 7, -2, 1, 5, -4, -9, 3, 10, 9, 2, 5, -5,
  -2, -10, -8, 1, -2, 3, 6, 14, 12, 4, 7, -3, 1, -6, -5, 5, 2, 9, 8, 15, 13, 2, 6, -5, 0, 8, 5, 12,
  9, -1, 3, 9, 10, 18, 16, 7, 11, 2, 6, 13, 14, 22, 20, 11, 15, 24, 22, 14, 17, 26, 25, 15, 19, 28, 26, 17, 21, 30,
  27, 36, 33, 22, 25, 14, 20, 29, 27, 36, 32, 21, 24, 14, 18, 27, 26, 35, 30, 20, 22, 31, 28, 16, 17, 25, 23, 33, 30, 20, 24, 13, 19, 29, 26, 36, 31, 20, 23, 12, 18, 27,
  24, 31, 29, 17, 21, 12, 15, 24, 22, 11, 16, 5, 10, 19, 17, 7, 12, 1, 6, 14, 11, 2, 5, -4, 0, 9, 6, -2,
  2, 11, 8, -1, 3, 7, -3, -11, -8, 1, -2, 6, 4, -6, -2, -9, -7, 2, -1, 9, 5, -7, -4, -13, -10, 1, -5, -9, -12, -19, -16];

const mainSeries = [main10, main20, main30, main40, main50, main60, main70, main80, main90, main100, main125, main150, main200];
const driveSeries = [drive10, drive20, drive30, drive40, drive50, drive60, drive70, drive80, drive90, drive100, drive125, drive150, drive200];

const FONT = '"Liberation Sans", Arial, sans-serif';
const AXIS_COLOR = '#262626';

// panel title, centred over the plot area
const panelTitle = {
  id: 'panelTitle',
  afterDraw(chart, args, opts) {
    const { ctx, chartArea: a } = chart;
    ctx.save();
    ctx.font = 'bold 19px ' + FONT;
    ctx.fillStyle = '#000';
    ctx.textAlign = 'center';
    ctx.textBaseline = 'middle';
    ctx.fillText(opts.text, (a.left + a.right) / 2, opts.y);
    ctx.restore();
  }
};

// MATLAB style box with inward tick marks on all four sides
const boxTicks = {
  id: 'boxTicks',
  afterDatasetsDraw(chart) {
    const { ctx, chartArea: a, scales } = chart;
    const L = Math.round(a.left) + 0.5, R = Math.round(a.right) - 0.5;
    const T = Math.round(a.top) + 0.5, B = Math.round(a.bottom) - 0.5;
    const len = 8;
    ctx.save();
    ctx.strokeStyle = AXIS_COLOR;
    ctx.lineWidth = 1;
    ctx.beginPath();
    scales.x.ticks.forEach(t => {
      const px = Math.round(scales.x.getPixelForValue(t.value)) + 0.5;
      ctx.moveTo(px, B); ctx.lineTo(px, B - len);
      ctx.moveTo(px, T); ctx.lineTo(px, T + len);
    });
    scales.y.ticks.forEach(t => {
      const py = Math.round(scales.y.getPixelForValue(t.value)) + 0.5;
      ctx.moveTo(L, py); ctx.lineTo(L + len, py);
      ctx.moveTo(R, py); ctx.lineTo(R - len, py);
    });
    ctx.rect(L, T, R - L, B - T);
    ctx.stroke();
    ctx.restore();
  }
};

function makeDatasets(points, width) {
  return seriesNames.map((name, i) => ({
    label: name,
    data: points(i),
    borderColor: seriesColors[i],
    borderWidth: width,
    pointRadius: 0,
    fill: false,
    tension: 0,
    order: seriesNames.length - i
  }));
}

function panelOptions(cfg) {
  return {
    responsive: false,
    animation: false,
    events: [],
    layout: { padding: { left: 0, right: 83, top: cfg.top, bottom: 0 } },
    plugins: {
      legend: { display: false },
      tooltip: { enabled: false },
      panelTitle: { text: cfg.title, y: cfg.titleY }
    },
    scales: {
      x: {
        type: 'linear', min: 1150, max: 2280,
        grid: { display: false, drawTicks: false },
        border: { display: false },
        afterBuildTicks: s => { s.ticks = timeTicks.map(v => ({ value: v })); },
        afterFit: s => { s.height = cfg.xHeight; },
        ticks: { padding: cfg.xPad, color: AXIS_COLOR, autoSkip: false, maxRotation: 0,
                 font: { family: FONT, size: cfg.tickSize }, callback: v => String(v) },
        title: { display: true, text: 'time (ns)', color: AXIS_COLOR,
                 font: { family: FONT, size: 20, lineHeight: 1 }, padding: { top: 0, bottom: cfg.xTitlePad } }
      },
      y: {
        type: 'linear', min: cfg.yMin, max: cfg.yMax,
        grid: { display: false, drawTicks: false },
        border: { display: false },
        afterBuildTicks: s => { s.ticks = cfg.yTicks.map(v => ({ value: v })); },
        afterFit: s => { s.width = 87; },
        ticks: { padding: 7, color: AXIS_COLOR, font: { family: FONT, size: cfg.tickSize }, callback: v => String(v) },
        title: { display: true, text: 'BLM signal (mV)', color: AXIS_COLOR,
                 font: { family: FONT, size: 20, lineHeight: 1 }, padding: { top: cfg.yTitlePad, bottom: 0 } }
      }
    }
  };
}

new Chart(document.getElementById('mainCanvas'), {
  type: 'line',
  data: { datasets: makeDatasets(i => mainTime.map((t, j) => ({ x: t, y: mainSeries[i][j] })), 1.2) },
  options: panelOptions({ top: 42.3, title: 'LIC Main Beam', titleY: 19.2, xHeight: 72.3, xPad: 5.4,
                          tickSize: 17, xTitlePad: 18, yMin: -8.3, yMax: 250,
                          yTicks: mainTicks, yTitlePad: 22.2 }),
  plugins: [panelTitle, boxTicks]
});

new Chart(document.getElementById('driveCanvas'), {
  type: 'line',
  data: { datasets: makeDatasets(i => driveSeries[i].map((v, j) => ({ x: driveStart + j * driveStep, y: v / 100 })), 1.1) },
  options: panelOptions({ top: 60.7, title: 'LIC Drive Beam', titleY: 36.7, xHeight: 57.3, xPad: 4.8,
                          tickSize: 20, xTitlePad: 0, yMin: -0.3, yMax: 0.99,
                          yTicks: driveTicks, yTitlePad: 13.2 }),
  plugins: [panelTitle, boxTicks]
});

// legend box shared by both panels
const legend = document.getElementById('legend');
seriesNames.forEach((name, k) => {
  const cy = 16.2 + 28.7 * k;
  const sw = document.createElement('div');
  sw.className = 'swatch';
  sw.style.top = Math.round(cy - 1) + 'px';
  sw.style.background = seriesColors[k];
  legend.appendChild(sw);
  const txt = document.createElement('div');
  txt.className = 'name';
  txt.style.top = (cy - 11.3) + 'px';
  txt.textContent = name;
  legend.appendChild(txt);
});
</script>
</body>
</html>
